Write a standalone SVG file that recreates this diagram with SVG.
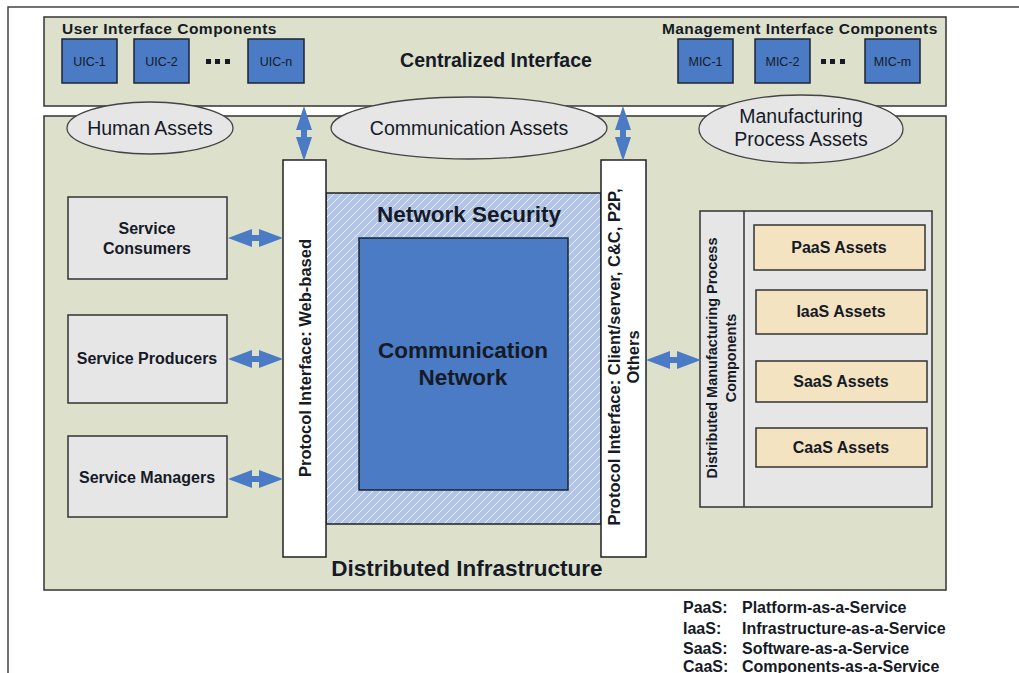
<svg xmlns="http://www.w3.org/2000/svg" width="1019" height="673" viewBox="0 0 1019 673">
<style>
text{font-family:"Liberation Sans",Arial,sans-serif;fill:#151a26}
.b{font-weight:bold}
.panel{fill:#dde1cb;stroke:#333;stroke-width:1.5}
.blue{fill:#4a7bc4;stroke:#1c2433;stroke-width:1.5}
.gray{fill:#e6e6e6;stroke:#333;stroke-width:1.5}
.ell{fill:#e6e6e6;stroke:#444;stroke-width:1.3}
.asset{fill:#f3e3c0;stroke:#333;stroke-width:1.5}
.white{fill:#fff;stroke:#222;stroke-width:1.5}
.arrow{fill:#4a7bc4}
.small{font-size:12.5px}
.lbl{font-size:16px;font-weight:bold}
.ea{font-size:19.5px}
</style>
<defs>
<pattern id="hatch" patternUnits="userSpaceOnUse" width="8" height="8">
<rect width="8" height="8" fill="#b2c5e6"/>
<path d="M-2,2 L2,-2 M0,8 L8,0 M6,10 L10,6" stroke="#ffffff" stroke-width="1" stroke-opacity="0.75"/>
</pattern>
<path id="harrow" d="M0,0 L24,-9 L24,-3 L31,-3 L31,-9 L55,0 L31,9 L31,3 L24,3 L24,9 Z"/>
<path id="varrow" d="M0,0 L-8,24 L-3,24 L-3,31 L-8,31 L0,55 L8,31 L3,31 L3,24 L8,24 Z"/>
</defs>

<path d="M8,673 V7 H1019" fill="none" stroke="#444" stroke-width="1.5"/>

<g id="centralized-interface">
<rect class="panel" x="44" y="17" width="902" height="89"/>
<text class="b" x="496" y="67" font-size="19.5" text-anchor="middle">Centralized Interface</text>
</g>
<g id="user-interface-components">
<text class="b" x="62" y="34" font-size="15.5" letter-spacing="0.5">User Interface Components</text>
<g id="uic-1"><rect class="blue" x="62" y="39" width="55" height="44"/><text class="small" x="89.5" y="66" text-anchor="middle">UIC-1</text></g>
<g id="uic-2"><rect class="blue" x="134" y="39" width="55" height="44"/><text class="small" x="161.5" y="66" text-anchor="middle">UIC-2</text></g>
<g fill="#151a26"><rect x="206" y="59" width="5" height="5"/><rect x="215" y="59" width="5" height="5"/><rect x="225" y="59" width="5" height="5"/></g>
<g id="uic-n"><rect class="blue" x="248" y="39" width="56" height="44"/><text class="small" x="276" y="66" text-anchor="middle">UIC-n</text></g>
</g>
<g id="management-interface-components">
<text class="b" x="662" y="34" font-size="15.5" letter-spacing="0.42">Management Interface Components</text>
<g id="mic-1"><rect class="blue" x="678" y="39" width="55" height="44"/><text class="small" x="705.5" y="66" text-anchor="middle">MIC-1</text></g>
<g id="mic-2"><rect class="blue" x="755" y="39" width="55" height="44"/><text class="small" x="782.5" y="66" text-anchor="middle">MIC-2</text></g>
<g fill="#151a26"><rect x="821" y="59" width="5" height="5"/><rect x="830" y="59" width="5" height="5"/><rect x="840" y="59" width="5" height="5"/></g>
<g id="mic-m"><rect class="blue" x="865" y="39" width="55" height="44"/><text class="small" x="892.5" y="66" text-anchor="middle">MIC-m</text></g>
</g>

<g id="distributed-infrastructure">
<rect class="panel" x="44" y="116" width="902" height="474"/>
<text class="b" x="467" y="576" font-size="22.5" text-anchor="middle">Distributed Infrastructure</text>
</g>

<g id="human-assets">
<ellipse class="ell" cx="150" cy="128" rx="83" ry="26"/>
<text class="ea" x="150" y="135" text-anchor="middle">Human Assets</text>
</g>
<g id="communication-assets">
<ellipse class="ell" cx="469" cy="128" rx="138" ry="31"/>
<text class="ea" x="469" y="135" text-anchor="middle">Communication Assets</text>
</g>
<g id="manufacturing-process-assets">
<ellipse class="ell" cx="801" cy="129" rx="102" ry="34"/>
<text class="ea" x="801" y="123" text-anchor="middle">Manufacturing</text>
<text class="ea" x="801" y="146" text-anchor="middle">Process Assets</text>
</g>

<g id="network-security">
<rect x="326" y="193" width="275" height="331" fill="url(#hatch)" stroke="#222" stroke-width="1.5"/>
<text class="b" x="469" y="222" font-size="22.5" text-anchor="middle">Network Security</text>
</g>
<g id="communication-network">
<rect class="blue" x="359" y="238" width="209" height="252"/>
<text class="b" x="463" y="358" font-size="22.5" text-anchor="middle">Communication</text>
<text class="b" x="463" y="385" font-size="22.5" text-anchor="middle">Network</text>
</g>

<g id="protocol-web">
<rect class="white" x="283" y="160" width="43" height="397"/>
<text class="lbl" font-size="16.5" style="font-size:16.5px" transform="translate(311,358) rotate(-90)" text-anchor="middle">Protocol Interface: Web-based</text>
</g>
<g id="protocol-client-server">
<rect class="white" x="601" y="160" width="45" height="397"/>
<text class="lbl" style="font-size:16.5px" transform="translate(620,357) rotate(-90)" text-anchor="middle"><tspan x="0" y="0">Protocol Interface: Client/server, C&amp;C, P2P,</tspan><tspan x="0" y="19">Others</tspan></text>
</g>

<g id="service-consumers">
<rect class="gray" x="68" y="197" width="159" height="82"/>
<text class="lbl" x="147" y="234" text-anchor="middle">Service</text>
<text class="lbl" x="147" y="254" text-anchor="middle">Consumers</text>
</g>
<g id="service-producers">
<rect class="gray" x="68" y="315" width="159" height="88"/>
<text class="lbl" x="147" y="364" text-anchor="middle">Service Producers</text>
</g>
<g id="service-managers">
<rect class="gray" x="68" y="436" width="159" height="81"/>
<text class="lbl" x="147" y="483" text-anchor="middle">Service Managers</text>
</g>

<g id="dmp-components">
<rect class="gray" x="700" y="211" width="232" height="296"/>
<line x1="744" y1="211" x2="744" y2="507" stroke="#333" stroke-width="1.5"/>
<text class="b" font-size="14.5" transform="translate(717,358) rotate(-90)" text-anchor="middle"><tspan x="0" y="0">Distributed Manufacturing Process</tspan><tspan x="0" y="19">Components</tspan></text>
</g>
<g id="paas-assets"><rect class="asset" x="754" y="225" width="171" height="45"/><text class="lbl" x="839" y="253" text-anchor="middle">PaaS Assets</text></g>
<g id="iaas-assets"><rect class="asset" x="756" y="290" width="171" height="44"/><text class="lbl" x="841" y="317" text-anchor="middle">IaaS Assets</text></g>
<g id="saas-assets"><rect class="asset" x="756" y="361" width="171" height="41"/><text class="lbl" x="841" y="387" text-anchor="middle">SaaS Assets</text></g>
<g id="caas-assets"><rect class="asset" x="756" y="428" width="171" height="39"/><text class="lbl" x="841" y="453" text-anchor="middle">CaaS Assets</text></g>

<g id="connectors" class="arrow">
<use href="#varrow" x="304" y="106"/>
<use href="#varrow" x="623" y="106"/>
<use href="#harrow" x="228" y="238"/>
<use href="#harrow" x="228" y="359"/>
<use href="#harrow" x="228" y="479"/>
<use href="#harrow" x="646" y="360"/>
</g>

<g id="legend" class="lbl">
<text x="683" y="613">PaaS:</text><text x="742" y="613">Platform-as-a-Service</text>
<text x="683" y="634">IaaS:</text><text x="742" y="634">Infrastructure-as-a-Service</text>
<text x="683" y="654">SaaS:</text><text x="742" y="654">Software-as-a-Service</text>
<text x="683" y="672">CaaS:</text><text x="742" y="672">Components-as-a-Service</text>
</g>
</svg>
